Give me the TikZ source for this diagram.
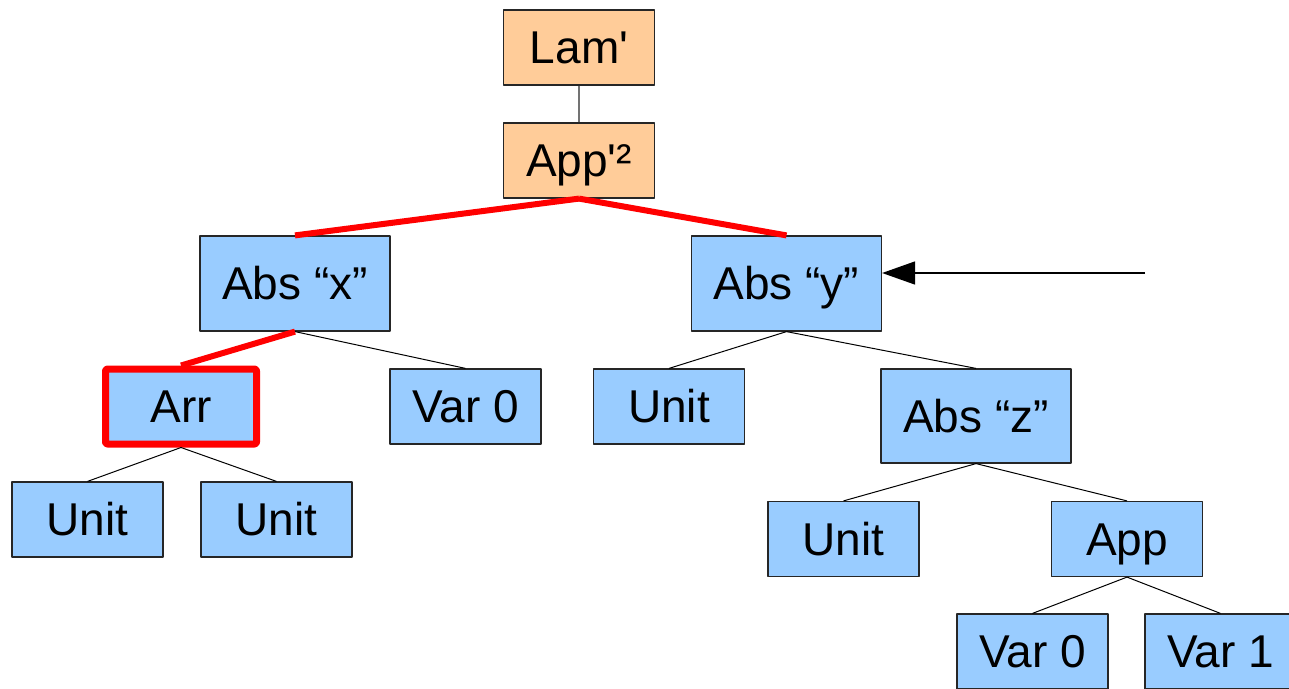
\documentclass[tikz,border=0pt]{standalone}
\usepackage{fontspec}
\newfontfamily\treefont{Liberation Sans}
\usetikzlibrary{arrows.meta}
\definecolor{termblue}{HTML}{99CCFF}
\definecolor{termorange}{HTML}{FFCC99}
\begin{document}
\begin{tikzpicture}[x=1pt, y=-1pt, font=\treefont\fontsize{46}{50}\selectfont, line join=round,
  term/.style={draw=black!85, line width=1.2pt, fill=termblue, minimum width=151pt, minimum height=75pt,
    inner sep=0pt, text height=32pt, text depth=0pt},
  wide/.style={term, minimum width=190pt, minimum height=95pt},
  lifted/.style={term, fill=termorange},
  edge/.style={line width=1pt},
  hot/.style={red, line width=6pt}]
\useasboundingbox (0,0) rectangle (1289,688);
\clip (0,0) rectangle (1289,688);
% nodes of the tree
\node[lifted] (lam) at (579,47.5) {Lam'};
\node[lifted] (app2) at (579,160.5) {App'²};
\node[wide] (absx) at (295,283.5) {Abs “x”};
\node[wide] (absy) at (786.5,283.5) {Abs “y”};
\node[term, draw=red, line width=7pt, rounded corners=2pt] (arr) at (181,406.5) {Arr};
\node[term] (var0a) at (465.5,406.5) {Var 0};
\node[term] (unitc) at (669,406.5) {Unit};
\node[wide, minimum height=94pt] (absz) at (976,416) {Abs “z”};
\node[term] (unita) at (87.5,519.5) {Unit};
\node[term] (unitb) at (276.5,519.5) {Unit};
\node[term] (unitd) at (843.5,539) {Unit};
\node[term] (app) at (1127,539) {App};
\node[term] (var0b) at (1032.5,651.5) {Var 0};
\node[term] (var1) at (1220.5,651.5) {Var 1};
% edges
\draw[line width=1.5pt, black!55] (lam) -- (app2);
\draw[hot] (app2.south) -- (absx.north);
\draw[hot] (app2.south) -- (absy.north);
\draw[hot] (absx.south) -- (arr.north);
\draw[edge] (absx.south) -- (var0a.north);
\draw[edge] (absy.south) -- (unitc.north);
\draw[edge] (absy.south) -- (absz.north);
\draw[edge] (arr.south) -- (unita.north);
\draw[edge] (arr.south) -- (unitb.north);
\draw[edge] (absz.south) -- (unitd.north);
\draw[edge] (absz.south) -- (app.north);
\draw[edge] (app.south) -- (var0b.north);
\draw[edge] (app.south) -- (var1.north);
% pointer
\coordinate (from) at (1145,273);
\draw[-{Triangle[length=33pt,width=23pt]}, line width=1.5pt] (from) -- (absy.east |- from);
\end{tikzpicture}
\end{document}
